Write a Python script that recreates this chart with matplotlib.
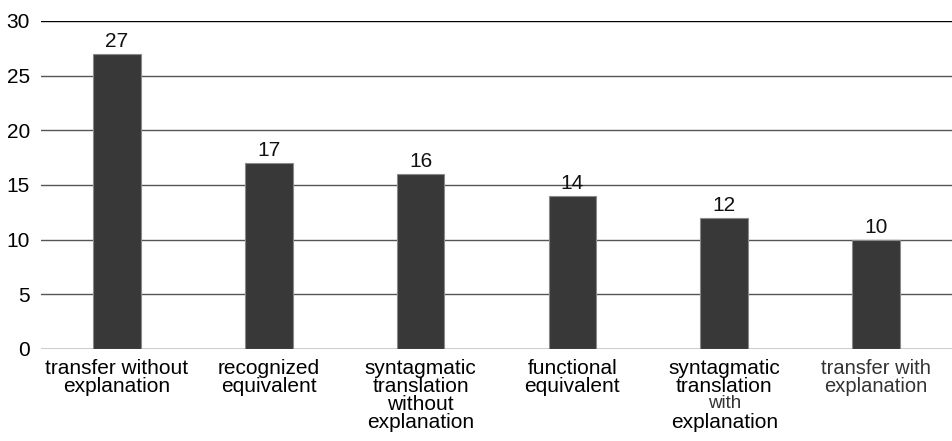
import matplotlib.pyplot as plt
import matplotlib.transforms as mtransforms
import numpy as np

plt.rcParams['font.family'] = ['Liberation Sans', 'DejaVu Sans']

categories = [
    "transfer without\nexplanation",
    "recognized\nequivalent",
    "syntagmatic\ntranslation\nwithout\nexplanation",
    "functional\nequivalent",
    "syntagmatic\ntranslation\nwith\nexplanation",
    "transfer with\nexplanation",
]
values = [27, 17, 16, 14, 12, 10]
y_ticks = [0, 5, 10, 15, 20, 25, 30]

fig = plt.figure(figsize=(9.52, 4.41), dpi=100)
ax = fig.add_axes([41 / 952, 1 - 349 / 441, 911 / 952, (349 - 21) / 441])

x = np.arange(len(values))
ax.bar(x, values, width=0.315, color='#383838', edgecolor='#8a8a8a', linewidth=0.8, zorder=3)

for xi, v in zip(x, values):
    ax.text(xi, v + 0.25, str(v), ha='center', va='bottom', fontsize=15, color='#111111')

ax.set_xlim(-0.5, len(values) - 0.5)
ax.set_ylim(0, 30)
ax.set_yticks(y_ticks)
ax.set_yticklabels([str(t) for t in y_ticks], fontsize=15)
ax.tick_params(axis='y', length=0, pad=8)
ax.set_xticks([])

for t in y_ticks:
    col = '#000000' if t in (0, 30) else '#555555'
    ax.axhline(t, color=col, linewidth=1.0, zorder=1)

for s in ax.spines.values():
    s.set_visible(False)

# category labels drawn line by line (18 px apart)
base = ax.get_xaxis_transform()
for i, (xi, lab) in enumerate(zip(x, categories)):
    for j, line in enumerate(lab.split("\n")):
        size, col = 15, '#000000'
        if i == len(categories) - 1:
            size, col = 14.5, '#333333'
        elif line == "with":
            size, col = 13.5, '#333333'
        tr = mtransforms.offset_copy(base, fig=fig, x=0, y=-(10 + 18 * j) * 0.72, units='points')
        ax.text(xi, 0, line, transform=tr, ha='center', va='top', fontsize=size, color=col)

fig.savefig("out.png", dpi=100)
